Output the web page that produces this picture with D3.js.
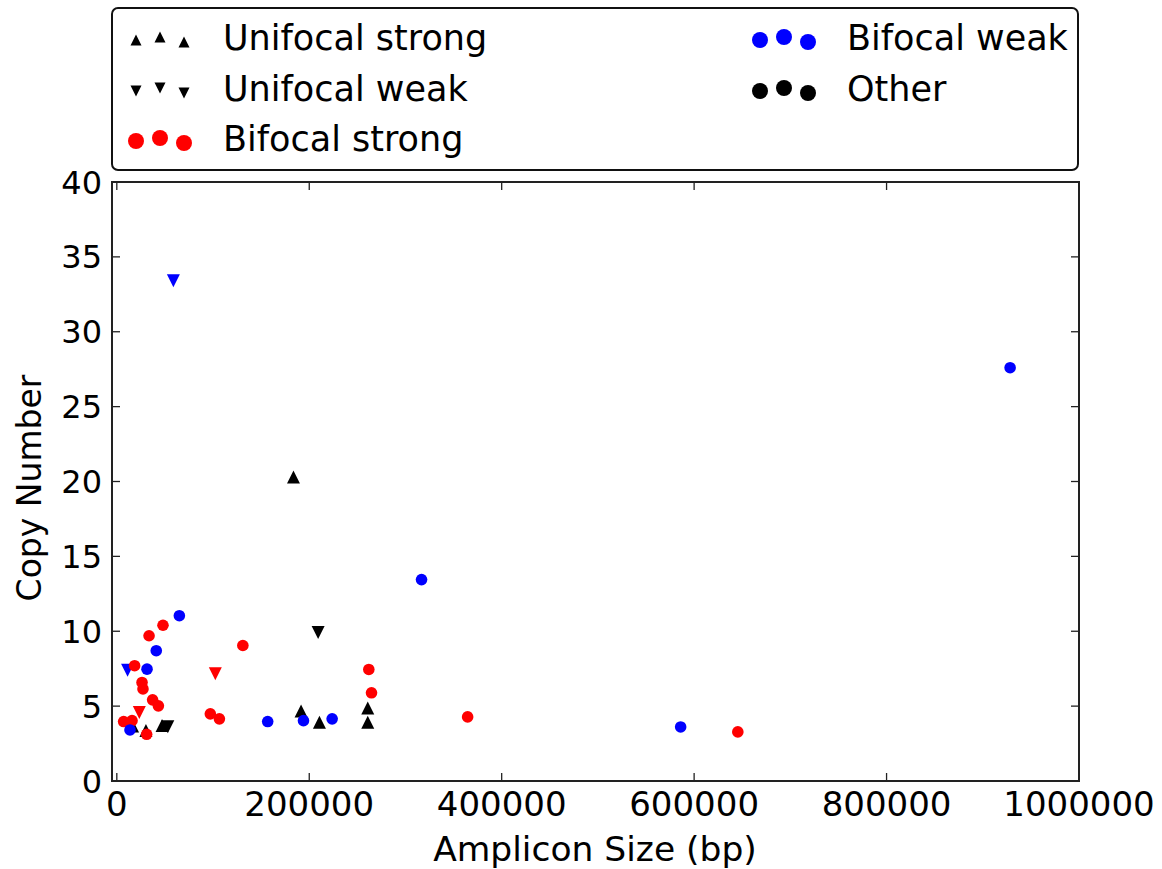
<!DOCTYPE html>
<html>
<head>
<meta charset="utf-8">
<script src="https://cdn.jsdelivr.net/npm/d3@7"></script>
<style>
  body { margin: 0; background: #fff; }
  svg text { font-family: "DejaVu Sans", sans-serif; fill: #000; }
</style>
</head>
<body>
<svg id="chart" width="1162" height="869"></svg>
<script>
// [amplicon size (bp), copy number]
const unifocalStrongBlack = [[16400, 3.68], [30300, 3.37], [47000, 3.7], [183600, 20.3],
  [191500, 4.68], [210600, 3.93], [260800, 4.88], [260800, 3.93]];
const unifocalWeakBlack = [[53000, 3.62], [209200, 9.92]];
const unifocalWeakBlue = [[11200, 7.4], [58800, 33.4]];
const unifocalWeakRed = [[23400, 4.57], [102400, 7.16]];
const bifocalStrong = [[7100, 3.97], [15800, 4.03], [18500, 7.7], [26200, 6.58], [27200, 6.15],
  [31000, 3.12], [33500, 9.7], [37200, 5.42], [43200, 5.02], [48000, 10.4], [97200, 4.48],
  [106600, 4.15], [131000, 9.05], [261900, 7.45], [264700, 5.89], [364600, 4.28], [645400, 3.28]];
const bifocalWeak = [[13700, 3.41], [31400, 7.47], [41000, 8.7], [65000, 11.04], [156800, 3.97],
  [194000, 4.03], [223800, 4.15], [316700, 13.45], [586000, 3.61], [928400, 27.6]];

const xTicks = [0, 200000, 400000, 600000, 800000, 1000000];
const yTicks = [0, 5, 10, 15, 20, 25, 30, 35, 40];

const legendItems = [
  {label: "Unifocal strong", shape: "up", color: "#000000", col: 0, row: 0},
  {label: "Unifocal weak", shape: "down", color: "#000000", col: 0, row: 1},
  {label: "Bifocal strong", shape: "circle", color: "#ff0000", col: 0, row: 2},
  {label: "Bifocal weak", shape: "circle", color: "#0000ff", col: 1, row: 0},
  {label: "Other", shape: "circle", color: "#000000", col: 1, row: 1}
];

const svg = d3.select("#chart");
const plot = {left: 112, right: 1079, top: 182, bottom: 781};

const x = d3.scaleLinear().domain([-5000, 1000000]).range([plot.left, plot.right]);
const y = d3.scaleLinear().domain([0, 40]).range([plot.bottom, plot.top]);

function triPath(h, down) {
  return down
    ? `M${-h},${-h}L${h},${-h}L0,${h}Z`
    : `M0,${-h}L${h},${h}L${-h},${h}Z`;
}

function drawMarkers(data, shape, color) {
  const g = svg.append("g");
  if (shape === "circle") {
    g.selectAll("circle").data(data).enter().append("circle")
      .attr("cx", d => x(d[0]))
      .attr("cy", d => y(d[1]))
      .attr("r", 5.8)
      .attr("fill", color);
  } else {
    g.selectAll("path").data(data).enter().append("path")
      .attr("d", triPath(6.5, shape === "down"))
      .attr("transform", d => `translate(${x(d[0])},${y(d[1])})`)
      .attr("fill", color);
  }
}

drawMarkers(unifocalStrongBlack, "up", "#000000");
drawMarkers(unifocalWeakBlack, "down", "#000000");
drawMarkers(unifocalWeakBlue, "down", "#0000ff");
drawMarkers(unifocalWeakRed, "down", "#ff0000");
drawMarkers(bifocalStrong, "circle", "#ff0000");
drawMarkers(bifocalWeak, "circle", "#0000ff");

// ticks, inward on all four sides
const tickLen = 8;
const ticks = svg.append("g").attr("stroke", "#222").attr("stroke-width", 1.3);
xTicks.forEach(t => {
  ticks.append("line").attr("x1", x(t)).attr("x2", x(t)).attr("y1", plot.bottom).attr("y2", plot.bottom - tickLen);
  ticks.append("line").attr("x1", x(t)).attr("x2", x(t)).attr("y1", plot.top).attr("y2", plot.top + tickLen);
});
yTicks.forEach(t => {
  ticks.append("line").attr("x1", plot.left).attr("x2", plot.left + tickLen).attr("y1", y(t)).attr("y2", y(t));
  ticks.append("line").attr("x1", plot.right).attr("x2", plot.right - tickLen).attr("y1", y(t)).attr("y2", y(t));
});

svg.append("rect")
  .attr("x", plot.left).attr("y", plot.top)
  .attr("width", plot.right - plot.left).attr("height", plot.bottom - plot.top)
  .attr("fill", "none").attr("stroke", "#222").attr("stroke-width", 2);

svg.append("g").selectAll("text").data(xTicks).enter().append("text")
  .attr("x", d => x(d))
  .attr("y", plot.bottom + 35)
  .attr("text-anchor", "middle")
  .style("font-size", "34px")
  .text(d => d);

svg.append("g").selectAll("text").data(yTicks).enter().append("text")
  .attr("x", plot.left - 10)
  .attr("y", d => y(d))
  .attr("dy", "0.36em")
  .attr("text-anchor", "end")
  .style("font-size", "32px")
  .text(d => d);

svg.append("text")
  .attr("x", 595)
  .attr("y", 861)
  .attr("text-anchor", "middle")
  .style("font-size", "34.5px")
  .text("Amplicon Size (bp)");

svg.append("text")
  .attr("transform", `translate(41,${488}) rotate(-90)`)
  .attr("text-anchor", "middle")
  .style("font-size", "33px")
  .text("Copy Number");

// legend
const legend = svg.append("g");
legend.append("rect")
  .attr("x", 112).attr("y", 8)
  .attr("width", 966).attr("height", 162)
  .attr("rx", 6).attr("ry", 6)
  .attr("fill", "#fff").attr("stroke", "#111").attr("stroke-width", 2);

const rowY = [37, 88, 138];
const colMarkerX = [136, 760];
const colTextX = [223, 847];
const offsets = [[0, 3], [24, 0], [48, 5]];

legendItems.forEach(item => {
  const cy = rowY[item.row];
  offsets.forEach(o => {
    const mx = colMarkerX[item.col] + o[0];
    const my = cy + o[1];
    if (item.shape === "circle") {
      legend.append("circle").attr("cx", mx).attr("cy", my).attr("r", 8).attr("fill", item.color);
    } else {
      legend.append("path")
        .attr("d", triPath(5.5, item.shape === "down"))
        .attr("transform", `translate(${mx},${my})`)
        .attr("fill", item.color);
    }
  });
  legend.append("text")
    .attr("x", colTextX[item.col])
    .attr("y", cy)
    .attr("dy", "0.36em")
    .style("font-size", "35px")
    .text(item.label);
});
</script>
</body>
</html>
